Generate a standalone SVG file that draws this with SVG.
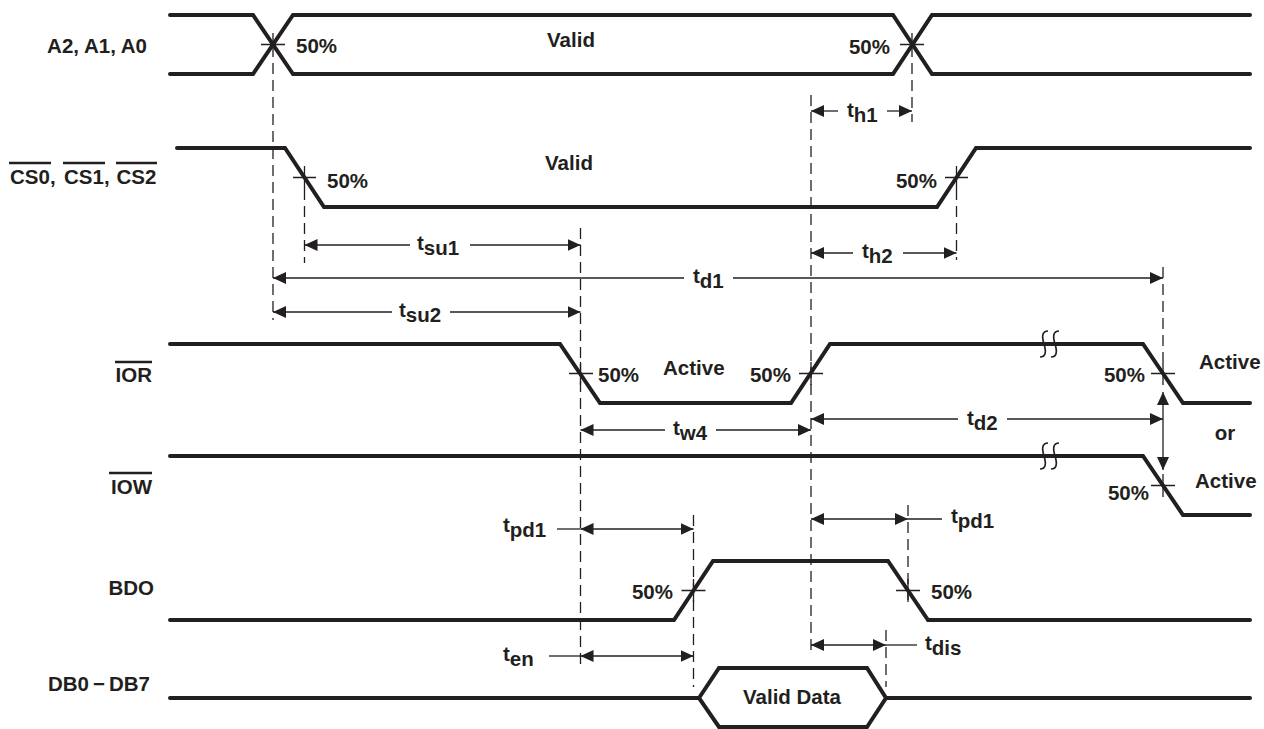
<svg xmlns="http://www.w3.org/2000/svg" width="1264" height="729" viewBox="0 0 1264 729">
<style>
  .sig{fill:none;stroke:#231f20;stroke-width:4;stroke-linecap:round;stroke-linejoin:miter}
  .thin{fill:none;stroke:#231f20;stroke-width:1.3}
  .dash{fill:none;stroke:#231f20;stroke-width:1.3;stroke-dasharray:11 6}
  .brk{fill:none;stroke:#231f20;stroke-width:1.7}
  .ovl{stroke:#231f20;stroke-width:2.6}
  text{font-family:"Liberation Sans",Arial,sans-serif;font-weight:bold;font-size:20.5px;fill:#231f20}
  .e{text-anchor:end}
  .m{text-anchor:middle}
</style>
<defs>
  <marker id="ah" viewBox="0 0 13 12" refX="13" refY="6" markerWidth="13" markerHeight="12" markerUnits="userSpaceOnUse" orient="auto-start-reverse">
    <path d="M0,0 L13,6 L0,12 z" fill="#231f20"/>
  </marker>
</defs>
<rect width="1264" height="729" fill="#ffffff"/>

<g id="sig-addr">
  <text class="e" x="147" y="53">A2, A1, A0</text>
  <path class="sig" d="M170,15 H253 L293,74 H893 L932,15 H1250"/>
  <path class="sig" d="M170,74 H253 L293,15 H893 L932,74 H1250"/>
  <path class="thin" d="M261,44.5 H285 M273,33 V44.5 M900,44.5 H924 M912,33 V44.5"/>
  <text x="296" y="53">50%</text>
  <text class="m" x="571" y="47">Valid</text>
  <text class="e" x="890" y="54">50%</text>
</g>

<g id="sig-cs">
  <text class="m" x="30" y="184">CS0</text>
  <text x="50" y="184">,</text>
  <text class="m" x="84" y="184">CS1</text>
  <text x="104" y="184">,</text>
  <text class="m" x="136.5" y="184">CS2</text>
  <path class="ovl" d="M9,163 H51 M63,163 H105 M116,163 H157"/>
  <path class="sig" d="M177,148 H285 L324,207 H937 L976,148 H1250"/>
  <path class="thin" d="M293,177.5 H316 M304.5,166 V189 M945,177.5 H968 M956.5,166 V189"/>
  <text x="327" y="188">50%</text>
  <text class="m" x="569" y="170">Valid</text>
  <text class="e" x="937" y="188">50%</text>
</g>

<g id="sig-ior">
  <text class="e" x="152" y="382">IOR</text>
  <path class="ovl" d="M115,362 H152"/>
  <path class="sig" d="M170,344 H560 L600,403 H791 L830,344 H1143 L1183,403 H1250"/>
  <path class="brk" d="M1048,331 Q1040,331 1044,344 Q1048,357 1040,357 M1059,331 Q1051,331 1055,344 Q1059,357 1051,357"/>
  <path class="thin" d="M569,373.5 H593 M580.5,362 V385 M799,373.5 H823 M811,362 V385 M1151,373.5 H1175 M1163,362 V385"/>
  <text x="598" y="382">50%</text>
  <text x="663" y="375">Active</text>
  <text class="e" x="791" y="382">50%</text>
  <text class="e" x="1145" y="382">50%</text>
  <text x="1199" y="369">Active</text>
</g>

<g id="sig-iow">
  <text class="e" x="152" y="494">IOW</text>
  <path class="ovl" d="M109,473 H152"/>
  <path class="sig" d="M170,456 H1143 L1183,515 H1250"/>
  <path class="brk" d="M1048,443 Q1040,443 1044,456 Q1048,469 1040,469 M1059,443 Q1051,443 1055,456 Q1059,469 1051,469"/>
  <path class="thin" d="M1151,485.5 H1175 M1163,474 V497"/>
  <text class="m" x="1225" y="440">or</text>
  <text x="1195" y="488">Active</text>
  <text class="e" x="1149" y="500">50%</text>
</g>

<g id="sig-bdo">
  <text class="e" x="154" y="595">BDO</text>
  <path class="sig" d="M170,620 H674 L713,561 H888 L928,620 H1250"/>
  <path class="thin" d="M681.5,590.5 H705.5 M693.5,579 V602 M896,590.5 H920 M908,579 V602"/>
  <text class="e" x="673" y="599">50%</text>
  <text x="931" y="599">50%</text>
</g>

<g id="sig-db">
  <text class="e" x="150" y="691">DB0<tspan dx="4">−</tspan><tspan dx="4">DB7</tspan></text>
  <path class="sig" d="M170,698 H699 M886,698 H1250"/>
  <path class="sig" d="M699,698 L719,668 H867 L886,698 L867,727 H719 Z"/>
  <text class="m" x="792" y="704">Valid Data</text>
</g>

<g id="connectors">
  <path class="dash" d="M273,46 V320"/>
  <path class="dash" d="M304.5,189 V263"/>
  <path class="dash" d="M580.5,228 V667"/>
  <path class="dash" d="M811,95 V655"/>
  <path class="dash" d="M912,46 V122"/>
  <path class="dash" d="M956.5,189 V260"/>
  <path class="dash" d="M1163,267 V362"/>
  <path class="dash" d="M693.5,515 V687"/>
  <path class="dash" d="M908,505 V600"/>
  <path class="dash" d="M886,630 V687"/>

  <!-- th1 -->
  <path class="thin" marker-start="url(#ah)" d="M811,111 H838"/>
  <path class="thin" marker-end="url(#ah)" d="M887,111 H912"/>
  <text x="847" y="117">t<tspan dy="5">h1</tspan></text>
  <!-- tsu1 -->
  <path class="thin" marker-start="url(#ah)" d="M304.5,245 H410"/>
  <path class="thin" marker-end="url(#ah)" d="M470,245 H580.5"/>
  <text x="417" y="250">t<tspan dy="5">su1</tspan></text>
  <!-- th2 -->
  <path class="thin" marker-start="url(#ah)" d="M811,253 H853"/>
  <path class="thin" marker-end="url(#ah)" d="M903,253 H956.5"/>
  <text x="862" y="258">t<tspan dy="5">h2</tspan></text>
  <!-- td1 -->
  <path class="thin" marker-start="url(#ah)" d="M273,278 H684"/>
  <path class="thin" marker-end="url(#ah)" d="M733,278 H1163"/>
  <text x="693" y="283">t<tspan dy="5">d1</tspan></text>
  <!-- tsu2 -->
  <path class="thin" marker-start="url(#ah)" d="M273,312 H392"/>
  <path class="thin" marker-end="url(#ah)" d="M450,312 H580.5"/>
  <text x="399" y="317">t<tspan dy="5">su2</tspan></text>
  <!-- tw4 -->
  <path class="thin" marker-start="url(#ah)" d="M580.5,430 H665"/>
  <path class="thin" marker-end="url(#ah)" d="M716,430 H811"/>
  <text x="673" y="435">t<tspan dy="5">w4</tspan></text>
  <!-- td2 -->
  <path class="thin" marker-start="url(#ah)" d="M811,419 H958"/>
  <path class="thin" marker-end="url(#ah)" d="M1007,419 H1163"/>
  <text x="967" y="425">t<tspan dy="5">d2</tspan></text>
  <!-- vertical IOR/IOW -->
  <path class="thin" marker-start="url(#ah)" marker-end="url(#ah)" d="M1163,392 V470"/>
  <!-- tpd1 left -->
  <path class="thin" d="M557,529 H580.5"/>
  <path class="thin" marker-start="url(#ah)" marker-end="url(#ah)" d="M580.5,529 H693.5"/>
  <text x="503" y="532">t<tspan dy="5">pd1</tspan></text>
  <!-- tpd1 right -->
  <path class="thin" marker-start="url(#ah)" marker-end="url(#ah)" d="M811,519 H908"/>
  <path class="thin" d="M908,519 H942"/>
  <text x="951" y="523">t<tspan dy="5">pd1</tspan></text>
  <!-- ten -->
  <path class="thin" d="M549,656 H580.5"/>
  <path class="thin" marker-start="url(#ah)" marker-end="url(#ah)" d="M580.5,656 H693.5"/>
  <text x="503" y="661">t<tspan dy="5">en</tspan></text>
  <!-- tdis -->
  <path class="thin" marker-start="url(#ah)" marker-end="url(#ah)" d="M811,645 H886"/>
  <path class="thin" d="M886,645 H917"/>
  <text x="925" y="650">t<tspan dy="5">dis</tspan></text>
</g>
</svg>
